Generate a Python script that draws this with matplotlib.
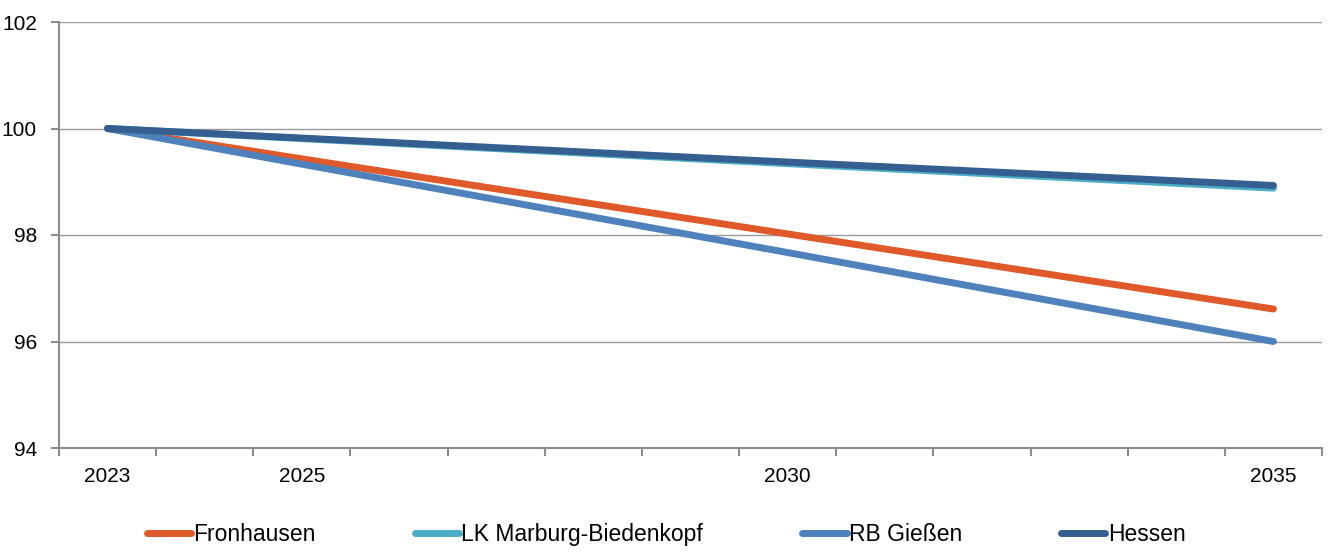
import matplotlib
matplotlib.use("Agg")
import matplotlib.pyplot as plt
from matplotlib.ticker import FixedLocator

# values (index 2023 = 100)
years = [2023, 2025, 2030, 2035]
fronhausen = [100.0, 99.43, 98.02, 96.61]
lk_marburg = [100.0, 99.81, 99.34, 98.88]
rb_giessen = [100.0, 99.33, 97.67, 96.00]
hessen = [100.0, 99.82, 99.37, 98.93]

series_names = ["Fronhausen", "LK Marburg-Biedenkopf", "RB Gießen", "Hessen"]
series_vals = [fronhausen, lk_marburg, rb_giessen, hessen]
colors = ["#E0592A", "#4BACC6", "#4F81BD", "#355E91"]

yticks = [94, 96, 98, 100, 102]

plt.rcParams["font.family"] = ["Liberation Sans", "DejaVu Sans"]

fig = plt.figure(figsize=(13.32, 5.52), dpi=100)
ax = fig.add_axes([59 / 1332, 1 - 448 / 552, (1322 - 59) / 1332, (448 - 22) / 552])

for name, vals, c in zip(series_names, series_vals, colors):
    ax.plot(years, vals, color=c, lw=5.0, solid_capstyle="round",
            solid_joinstyle="round", label=name)

ax.set_xlim(years[0] - 0.5, years[-1] + 0.5)
ax.set_ylim(yticks[0], yticks[-1])
ax.set_yticks(yticks)
ax.set_xticks(years)
ax.set_xticklabels([str(y) for y in years])
# tick marks sit between the years
ax.xaxis.set_minor_locator(FixedLocator([y + 0.5 for y in range(years[0] - 1, years[-1] + 1)]))

ax.grid(axis="y", color="#9A9A9A", lw=1.0)
ax.set_axisbelow(True)
for s in ["top", "right"]:
    ax.spines[s].set_visible(False)
for s in ["left", "bottom"]:
    ax.spines[s].set_color("#8C8C8C")
    ax.spines[s].set_linewidth(1.5)

ax.tick_params(axis="x", which="major", length=0, pad=14, labelsize=15)
ax.tick_params(axis="x", which="minor", length=6, width=1.5, color="#8C8C8C", direction="out")
ax.tick_params(axis="y", length=6, width=1.5, color="#8C8C8C", pad=10, labelsize=15)

fig.legend(loc="center", bbox_to_anchor=(0.5, 0.032), ncol=4, frameon=False,
           fontsize=16.5, handlelength=1.95, handletextpad=0.1, columnspacing=4.3,
           borderpad=0.1)

fig.savefig("out.png", dpi=100)
